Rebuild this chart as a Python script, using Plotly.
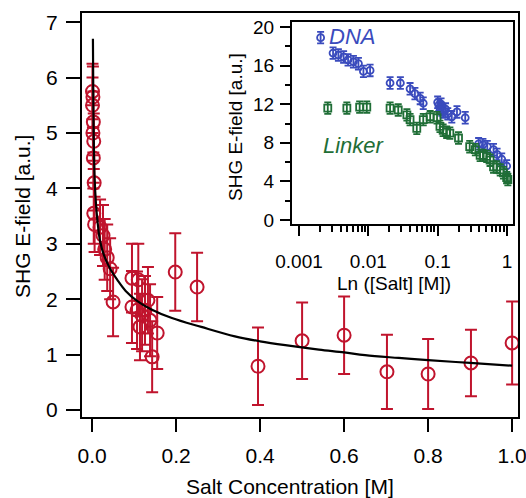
import plotly.graph_objects as go

# main panel: SHG E-field vs salt concentration
salt_conc = [0.001, 0.002, 0.001, 0.003, 0.002, 0.004, 0.003, 0.005, 0.004, 0.006,
             0.019, 0.026, 0.030, 0.036, 0.043, 0.050,
             0.095, 0.110, 0.095, 0.107, 0.119, 0.114, 0.126, 0.133, 0.138, 0.155, 0.143,
             0.198, 0.250, 0.395, 0.500, 0.600, 0.702, 0.800, 0.902, 1.000]
shg_field = [5.75, 5.65, 5.50, 5.20, 5.00, 4.85, 4.55, 4.10, 3.55, 3.35,
             3.30, 3.15, 2.90, 2.75, 2.55, 1.95,
             2.38, 2.35, 1.86, 1.80, 1.71, 1.50, 1.80, 1.98, 1.62, 1.39, 0.96,
             2.49, 2.22, 0.79, 1.25, 1.35, 0.69, 0.65, 0.85, 1.21]
shg_err = [0.50, 0.55, 0.50, 0.55, 0.50, 0.50, 0.55, 0.50, 0.55, 0.50,
           0.50, 0.55, 0.55, 0.60, 0.55, 0.62,
           0.62, 0.65, 0.65, 0.70, 0.65, 0.60, 0.62, 0.60, 0.65, 0.65, 0.64,
           0.70, 0.62, 0.70, 0.69, 0.70, 0.67, 0.63, 0.60, 0.75]

# fitted curve
fit_x = [0.002, 0.003, 0.004, 0.006, 0.009, 0.013, 0.019, 0.028, 0.043, 0.060, 0.080,
         0.107, 0.140, 0.190, 0.260, 0.340, 0.400, 0.460, 0.540, 0.600, 0.650, 0.730,
         0.800, 0.900, 1.000]
fit_y = [6.70, 5.60, 4.90, 4.20, 3.75, 3.40, 3.05, 2.80, 2.55, 2.35, 2.15,
         1.97, 1.82, 1.66, 1.50, 1.33, 1.24, 1.17, 1.09, 1.04, 0.99, 0.94,
         0.90, 0.85, 0.80]

# inset: DNA and linker on log salt axis
dna_x = [0.00205, 0.0031, 0.0037, 0.0044, 0.0051, 0.0061, 0.0072, 0.0085, 0.0106,
         0.0206, 0.029, 0.040, 0.047, 0.056, 0.062,
         0.100, 0.104, 0.108, 0.112, 0.115, 0.120, 0.130, 0.140, 0.160, 0.190, 0.250,
         0.390, 0.450, 0.520, 0.640, 0.720, 0.840, 0.990]
dna_y = [18.9, 17.3, 17.1, 16.9, 16.6, 16.4, 16.2, 15.4, 15.5,
         14.2, 14.2, 13.6, 13.1, 12.6, 12.1,
         12.2, 11.9, 11.6, 12.0, 11.4, 11.2, 11.5, 11.0, 10.7, 11.2, 10.6,
         7.9, 7.8, 7.6, 7.3, 6.8, 6.3, 5.6]

linker_x = [0.0026, 0.0049, 0.0075, 0.0095, 0.0206, 0.027, 0.036, 0.040, 0.050, 0.062,
            0.078, 0.098, 0.108, 0.120, 0.135, 0.150, 0.200, 0.290, 0.350, 0.410,
            0.450, 0.510, 0.570, 0.640, 0.710, 0.800, 0.890, 0.990, 1.030]
linker_y = [11.6, 11.6, 11.7, 11.7, 11.6, 11.4, 10.9, 10.4, 9.5, 10.4,
            10.7, 10.6, 9.7, 9.3, 9.1, 9.0, 8.5, 7.6, 7.3, 6.7,
            6.7, 6.6, 6.2, 5.5, 5.5, 5.2, 4.9, 4.4, 4.2]

log_major = [0.001, 0.01, 0.1, 1]
log_minor = [m * d for d in [0.001, 0.01, 0.1] for m in range(2, 10)]

RED = "#c0142d"
BLUE = "#3a4bbd"
GREEN = "#1f6e36"
FONT = "Arial, Liberation Sans, sans-serif"

fig = go.Figure()

fig.add_trace(go.Scatter(
    x=salt_conc, y=shg_field, mode="markers",
    marker=dict(symbol="circle-open", size=13, color=RED, line=dict(width=2, color=RED)),
    error_y=dict(type="data", array=shg_err, color=RED, thickness=2, width=6),
    xaxis="x", yaxis="y", showlegend=False, cliponaxis=False,
))
fig.add_trace(go.Scatter(
    x=fit_x, y=fit_y, mode="lines",
    line=dict(color="black", width=2.2, shape="spline"),
    xaxis="x", yaxis="y", showlegend=False,
))

fig.add_trace(go.Scatter(
    x=dna_x, y=dna_y, mode="markers",
    marker=dict(symbol="circle-open", size=7, color=BLUE, line=dict(width=1.8, color=BLUE)),
    error_y=dict(type="constant", value=0.6, color=BLUE, thickness=1.8, width=3.5),
    xaxis="x2", yaxis="y2", showlegend=False,
))
fig.add_trace(go.Scatter(
    x=linker_x, y=linker_y, mode="markers",
    marker=dict(symbol="square-open", size=7, color=GREEN, line=dict(width=1.8, color=GREEN)),
    error_y=dict(type="constant", value=0.6, color=GREEN, thickness=1.8, width=3.5),
    xaxis="x2", yaxis="y2", showlegend=False,
))

W, H = 526, 498


def px_x(p):
    return p / W


def px_y(p):
    return 1 - p / H


axis_common = dict(
    showgrid=False, zeroline=False, showline=True, linecolor="black", linewidth=2,
    mirror=True, ticks="outside", tickcolor="black", tickwidth=2, automargin=False,
    ticklabeloverflow="allow",
)

fig.update_layout(
    width=W, height=H,
    margin=dict(l=0, r=0, t=0, b=0),
    paper_bgcolor="white", plot_bgcolor="white",
    font=dict(family=FONT, color="black"),
    xaxis=dict(
        **axis_common, domain=[px_x(82), px_x(518)], range=[-0.024, 1.014],
        tickvals=[0, 0.2, 0.4, 0.6, 0.8, 1.0],
        ticktext=["0.0", "0.2", "0.4", "0.6", "0.8", "1.0"],
        ticklen=13, tickfont=dict(size=21), ticklabelstandoff=6, anchor="y",
    ),
    yaxis=dict(
        **axis_common, domain=[px_y(417), px_y(13)], range=[-0.126, 7.166],
        tickvals=[0, 1, 2, 3, 4, 5, 6, 7],
        ticklen=14, tickfont=dict(size=21), ticklabelstandoff=4, anchor="x",
    ),
    xaxis2=dict(
        **axis_common, type="log", domain=[px_x(292), px_x(513)], range=[-3.101, 0.087],
        tickvals=log_major, ticktext=["0.001", "0.01", "0.1", "1"],
        ticklen=10, tickfont=dict(size=19), ticklabelstandoff=9, anchor="y2",
        minor=dict(ticks="outside", ticklen=6, tickwidth=1.5, tickcolor="black",
                   tickvals=log_minor, showgrid=False),
    ),
    yaxis2=dict(
        **axis_common, domain=[px_y(224), px_y(22)], range=[-0.41, 20.52],
        tickvals=[0, 4, 8, 12, 16, 20],
        ticklen=10, tickfont=dict(size=19), ticklabelstandoff=2, anchor="x2",
        minor=dict(ticks="outside", ticklen=5, tickwidth=1.5, tickcolor="black",
                   tickvals=[2, 6, 10, 14, 18], showgrid=False),
    ),
    annotations=[
        dict(text="SHG E-field [a.u.]", x=px_x(22), y=px_y(217), xref="paper", yref="paper",
             textangle=-90, showarrow=False, font=dict(size=21), xanchor="center", yanchor="middle"),
        dict(text="Salt Concentration [M]", x=px_x(290), y=px_y(486), xref="paper", yref="paper",
             showarrow=False, font=dict(size=21), xanchor="center", yanchor="middle"),
        dict(text="SHG E-field [a.u.]", x=px_x(235), y=px_y(127), xref="paper", yref="paper",
             textangle=-90, showarrow=False, font=dict(size=19), xanchor="center", yanchor="middle"),
        dict(text="Ln ([Salt] [M])", x=px_x(394), y=px_y(283), xref="paper", yref="paper",
             showarrow=False, font=dict(size=19), xanchor="center", yanchor="middle"),
        dict(text="<i>DNA</i>", x=px_x(352), y=px_y(36), xref="paper", yref="paper",
             showarrow=False, font=dict(size=22, color=BLUE), xanchor="center", yanchor="middle"),
        dict(text="<i>Linker</i>", x=px_x(354), y=px_y(145), xref="paper", yref="paper",
             showarrow=False, font=dict(size=22, color=GREEN), xanchor="center", yanchor="middle"),
    ],
)

# drop the default page margin so the figure sits at the window's corner
fig.write_html(
    "out.html",
    config={"displayModeBar": False},
    post_script="document.body.style.margin='0';document.body.style.overflow='hidden';",
)
